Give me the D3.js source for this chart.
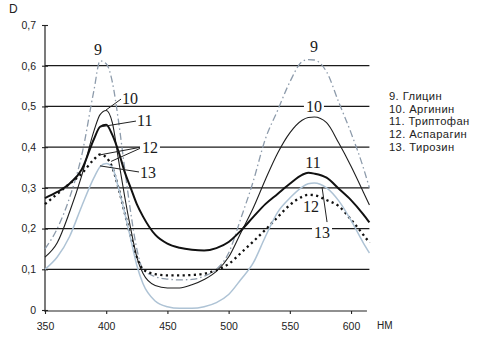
<!DOCTYPE html>
<html>
<head>
<meta charset="utf-8">
<script src="https://cdn.jsdelivr.net/npm/d3@7"></script>
<style>
  html, body { margin: 0; padding: 0; background: #fff; }
  svg { display: block; }
</style>
</head>
<body>
<svg id="chart" width="494" height="343"></svg>
<script>
// ---------- data ----------
const wavelengths = [350, 360, 370, 380, 390, 395, 400, 405, 410, 415, 420, 425, 430, 440, 450, 460, 470, 480, 490, 500, 510, 520, 530, 540, 550, 560, 565, 570, 580, 590, 600, 610, 615];

const glycine    = [0.150, 0.200, 0.275, 0.380, 0.540, 0.612, 0.605, 0.560, 0.465, 0.350, 0.240, 0.150, 0.100, 0.082, 0.076, 0.074, 0.075, 0.083, 0.100, 0.140, 0.225, 0.315, 0.420, 0.490, 0.560, 0.610, 0.615, 0.614, 0.585, 0.510, 0.435, 0.350, 0.300];
const arginine   = [0.130, 0.165, 0.240, 0.330, 0.440, 0.480, 0.490, 0.460, 0.370, 0.280, 0.200, 0.130, 0.090, 0.060, 0.054, 0.054, 0.062, 0.075, 0.095, 0.130, 0.190, 0.250, 0.320, 0.385, 0.435, 0.466, 0.473, 0.474, 0.460, 0.410, 0.353, 0.290, 0.258];
const tryptophan = [0.275, 0.290, 0.310, 0.345, 0.420, 0.450, 0.455, 0.430, 0.390, 0.340, 0.300, 0.260, 0.230, 0.185, 0.163, 0.153, 0.148, 0.146, 0.152, 0.167, 0.195, 0.228, 0.260, 0.285, 0.310, 0.332, 0.337, 0.335, 0.325, 0.298, 0.270, 0.235, 0.215];
const asparagine = [0.260, 0.285, 0.310, 0.335, 0.370, 0.382, 0.375, 0.350, 0.300, 0.240, 0.180, 0.130, 0.100, 0.088, 0.085, 0.085, 0.086, 0.089, 0.098, 0.113, 0.140, 0.168, 0.197, 0.228, 0.258, 0.278, 0.283, 0.282, 0.270, 0.255, 0.222, 0.185, 0.165];
const tyrosine   = [0.100, 0.130, 0.180, 0.255, 0.325, 0.352, 0.360, 0.350, 0.300, 0.240, 0.175, 0.110, 0.065, 0.022, 0.008, 0.004, 0.004, 0.008, 0.018, 0.038, 0.075, 0.115, 0.180, 0.240, 0.275, 0.302, 0.310, 0.312, 0.300, 0.268, 0.220, 0.165, 0.140];

const seriesNames = ["9", "10", "11", "12", "13"];
const legendLabels = ["9. Глицин", "10. Аргинин", "11. Триптофан", "12. Аспарагин", "13. Тирозин"];

const xTicks = [350, 400, 450, 500, 550, 600];
const yTicks = [0, 0.1, 0.2, 0.3, 0.4, 0.5, 0.6, 0.7];
const gridValues = [0.1, 0.2, 0.3, 0.4, 0.5, 0.6];

// curve labels: text, wavelength, D (baseline), anchor, white background
const labelTexts   = ["9", "9", "10", "10", "11", "11", "12", "12", "13", "13"];
const labelW       = [393.3, 569.7, 412.9, 569.7, 425.2, 568.9, 429.2, 567.3, 427.6, 576.3];
const labelD       = [0.626, 0.634, 0.506, 0.486, 0.452, 0.349, 0.386, 0.241, 0.324, 0.177];
const labelAnchor  = ["middle", "middle", "start", "middle", "start", "middle", "start", "middle", "start", "middle"];
const labelBg      = [false, false, false, true, false, false, true, false, false, true];

// pointer lines: [w1, d1, w2, d2]
const pointers = [
  [412.1, 0.518, 399.8, 0.491],
  [424.3, 0.464, 395.7, 0.450],
  [428.4, 0.400, 394.9, 0.381],
  [428.4, 0.398, 404.0, 0.365],
  [426.8, 0.339, 394.9, 0.354],
  [580.4, 0.216, 576.3, 0.302]
];

// ---------- drawing ----------
const svg = d3.select("#chart");
const x = d3.scaleLinear().domain([350, 615]).range([45, 369.4]);
const y = d3.scaleLinear().domain([0, 0.7]).range([310, 25]);

const styles = [
  { color: "#8d9bab", width: 1.3, dash: "7,3,1.5,3" },
  { color: "#1e1e1e", width: 1.1, dash: null },
  { color: "#111111", width: 2.0, dash: null },
  { color: "#111111", width: 2.3, dash: "2.2,3.4" },
  { color: "#aec3d5", width: 1.5, dash: null }
];
const allSeries = [glycine, arginine, tryptophan, asparagine, tyrosine];

// grid
svg.append("g").selectAll("line").data(gridValues).join("line")
  .attr("x1", x(350)).attr("x2", x(615))
  .attr("y1", d => y(d)).attr("y2", d => y(d))
  .attr("stroke", "#1a1a1a").attr("stroke-width", 1.2);

// axes
const fmt = v => v === 0 ? "0" : d3.format(".1f")(v).replace(".", ",");
const yAxis = svg.append("g").attr("transform", `translate(${x(350)},0)`)
  .call(d3.axisLeft(y).tickValues(yTicks).tickFormat(fmt).tickSize(3).tickPadding(6));
yAxis.select(".domain").attr("d", `M0,${y(0.7)}V${y(0) + 1}`).attr("stroke", "#222").attr("stroke-width", 1.2);
yAxis.selectAll(".tick line").attr("x1", -3).attr("x2", 3).attr("stroke", "#222").attr("stroke-width", 1.1);
yAxis.selectAll(".tick text").attr("font-family", "Liberation Sans, Arial, sans-serif").attr("font-size", 10.5).attr("fill", "#222");

const xAxis = svg.append("g").attr("transform", `translate(0,${y(0) + 1})`)
  .call(d3.axisBottom(x).tickValues(xTicks).tickFormat(d3.format("d")).tickSize(3).tickPadding(9));
xAxis.select(".domain").attr("d", `M${x(350) - 1},0H${x(613)}`).attr("stroke", "#222").attr("stroke-width", 1.2);
xAxis.selectAll(".tick line").attr("stroke", "#222").attr("stroke-width", 1.1);
xAxis.selectAll(".tick text").attr("font-family", "Liberation Sans, Arial, sans-serif").attr("font-size", 10.5).attr("fill", "#222");

svg.append("text").attr("x", 377).attr("y", 329).text("НМ")
  .attr("font-family", "Liberation Sans, Arial, sans-serif").attr("font-size", 10).attr("fill", "#222");
svg.append("text").attr("x", 9).attr("y", 13).text("D")
  .attr("font-family", "Liberation Sans, Arial, sans-serif").attr("font-size", 12).attr("fill", "#222");

// curves
const line = d3.line().x((d, i) => x(wavelengths[i])).y(d => y(d)).curve(d3.curveMonotoneX);
svg.append("g").selectAll("path").data(allSeries).join("path")
  .attr("d", d => line(d))
  .attr("fill", "none")
  .attr("stroke", (d, i) => styles[i].color)
  .attr("stroke-width", (d, i) => styles[i].width)
  .attr("stroke-dasharray", (d, i) => styles[i].dash)
  .attr("stroke-linejoin", "round");

// pointer lines
svg.append("g").selectAll("line").data(pointers).join("line")
  .attr("x1", d => x(d[0])).attr("y1", d => y(d[1]))
  .attr("x2", d => x(d[2])).attr("y2", d => y(d[3]))
  .attr("stroke", "#222").attr("stroke-width", 1);

// curve labels
const lbl = svg.append("g").selectAll("g").data(labelTexts).join("g");
lbl.each(function(t, i) {
  const g = d3.select(this);
  const tx = g.append("text").attr("x", x(labelW[i])).attr("y", y(labelD[i]))
    .attr("text-anchor", labelAnchor[i])
    .attr("font-family", "Liberation Serif, Times New Roman, serif")
    .attr("font-size", 16).attr("fill", "#1a1a1a").text(t);
  if (labelBg[i]) {
    const b = tx.node().getBBox();
    g.insert("rect", "text").attr("x", b.x - 2).attr("y", b.y + 3).attr("width", b.width + 4).attr("height", b.height - 5).attr("fill", "#fff");
  }
});

// legend
svg.append("g").selectAll("text").data(legendLabels).join("text")
  .attr("x", 389).attr("y", (d, i) => 100 + i * 12.7)
  .attr("font-family", "Liberation Sans, Arial, sans-serif").attr("font-size", 11.2)
  .attr("letter-spacing", 0.4).attr("fill", "#222")
  .text(d => d);
</script>
</body>
</html>
